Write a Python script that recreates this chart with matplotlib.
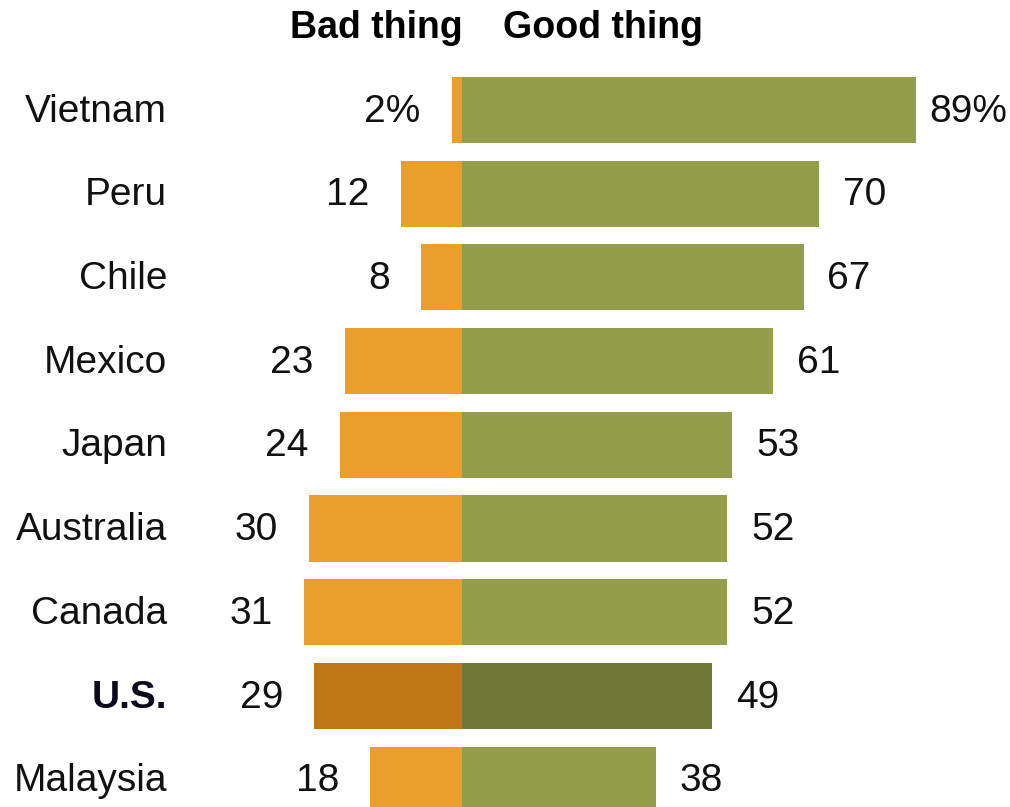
import numpy as np
import matplotlib.pyplot as plt

countries = ["Vietnam", "Peru", "Chile", "Mexico", "Japan", "Australia", "Canada", "U.S.", "Malaysia"]
bad = [2, 12, 8, 23, 24, 30, 31, 29, 18]
good = [89, 70, 67, 61, 53, 52, 52, 49, 38]
highlight = "U.S."

orange = "#EA9F2C"
green = "#949D4A"
dark_orange = "#BF7813"
dark_green = "#707837"

plt.rcParams['font.family'] = ['Liberation Sans', 'DejaVu Sans']

fig = plt.figure(figsize=(10.1, 8.07), dpi=100)
ax = fig.add_axes([0, 0, 1, 1])

y = np.arange(len(countries))
bad_colors = [dark_orange if c == highlight else orange for c in countries]
good_colors = [dark_green if c == highlight else green for c in countries]

ax.barh(y, [-b for b in bad], height=0.79, color=bad_colors, linewidth=0)
ax.barh(y, good, height=0.79, color=good_colors, linewidth=0)

# px per unit ~5.1, so offsets below are in data units
for i, (c, b, g) in enumerate(zip(countries, bad, good)):
    bl = f"{b}%" if i == 0 else str(b)
    gl = f"{g}%" if i == 0 else str(g)
    yy = i + 0.02
    ax.text(-b - 6.1, yy, bl, ha='right', va='center', fontsize=28, color='#111111')
    goff = 2.7 if i == 0 else 4.7
    ax.text(g + goff, yy, gl, ha='left', va='center', fontsize=28, color='#111111')
    if c == highlight:
        ax.text(-57.8, yy, c, ha='right', va='center', fontsize=28, fontweight='bold', color='#0a0a1a')
    else:
        ax.text(-57.8, yy, c, ha='right', va='center', fontsize=28, color='#111111')

ax.text(0.2, -0.98, "Bad thing", ha='right', va='center', fontsize=27, fontweight='bold')
ax.text(8.0, -0.98, "Good thing", ha='left', va='center', fontsize=27, fontweight='bold')

ax.set_xlim(-90.6, 107.5)
ax.set_ylim(8.327, -1.314)
ax.axis('off')

fig.savefig("out.png", dpi=100)
